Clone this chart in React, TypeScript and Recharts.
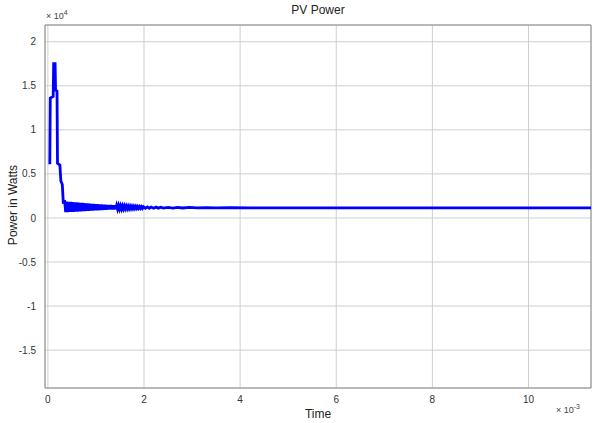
import { CartesianGrid, Line, LineChart, ReferenceLine, XAxis, YAxis } from "recharts";

// time in units of 1e-3 s, power in watts
const times = [
  0.04, 0.05, 0.11, 0.12, 0.15, 0.16, 0.19, 0.2, 0.25, 0.27, 0.3, 0.32,
  0.35, 0.37, 0.39, 0.41, 0.43, 0.45, 0.47, 0.49, 0.51, 0.53, 0.55, 0.57,
  0.59, 0.61, 0.63, 0.65, 0.67, 0.69, 0.71, 0.73, 0.75, 0.77, 0.79, 0.81,
  0.83, 0.85, 0.87, 0.89, 0.91, 0.93, 0.95, 0.97, 0.99, 1.01, 1.03, 1.05,
  1.07, 1.09, 1.11, 1.13, 1.15, 1.17, 1.19, 1.21, 1.23, 1.25, 1.27, 1.29,
  1.31, 1.33, 1.35, 1.37, 1.39, 1.41, 1.43, 1.45, 1.47, 1.49, 1.51, 1.53,
  1.55, 1.57, 1.59, 1.61, 1.63, 1.65, 1.67, 1.69, 1.71, 1.73, 1.75, 1.77,
  1.79, 1.81, 1.83, 1.85, 1.87, 1.89, 1.91, 1.93, 1.95, 1.97, 1.99,
  2.03, 2.07, 2.11, 2.15, 2.2, 2.25, 2.3, 2.35, 2.4, 2.5, 2.6, 2.7,
  2.8, 2.95, 3.1, 3.3, 3.5, 3.8, 4.2, 5.0, 7.0, 9.0, 11.3,
];
const power = [
  6100, 13600, 13800, 17500, 17500, 14500, 14400, 6200, 6000, 4200, 3800, 1800,
  1850, 650, 1850, 650, 1830, 680, 1820, 680, 1800, 700, 1780, 720,
  1760, 730, 1740, 750, 1720, 760, 1700, 780, 1680, 790, 1660, 800,
  1640, 820, 1620, 830, 1600, 850, 1590, 860, 1570, 870, 1560, 880,
  1540, 900, 1530, 910, 1510, 920, 1500, 930, 1480, 950, 1470, 960,
  1450, 970, 1440, 980, 1420, 990, 1410, 1000, 1400, 1010, 1380, 1020,
  1370, 1030, 1360, 1040, 1350, 1050, 1340, 1055, 1330, 1060, 1320, 1070,
  1310, 1075, 1300, 1080, 1290, 1085, 1280, 1090, 1270, 1095, 1260,
  1100, 1250, 1105, 1240, 1110, 1230, 1115, 1220, 1120, 1210, 1125, 1200,
  1130, 1190, 1140, 1180, 1145, 1170, 1150, 1150, 1150, 1150, 1150,
];
const xTicks = [0, 2, 4, 6, 8, 10];
const yTicks = [-15000, -10000, -5000, 0, 5000, 10000, 15000, 20000];

const rows = times.map((t, i) => ({ t, p: power[i] }));

const font = "'Liberation Sans', Arial, sans-serif";

export default function App() {
  return (
    <div style={{ position: "absolute", left: 0, top: 0, width: 593, height: 423, background: "#fff", fontFamily: font }}>
      <LineChart width={593} height={423} data={rows} margin={{ top: 25, right: 2, bottom: 0, left: 0 }}>
        <CartesianGrid stroke="#cfcfcf" strokeWidth={1} />
        <XAxis
          dataKey="t"
          type="number"
          domain={[-0.06, 11.3]}
          ticks={xTicks}
          allowDataOverflow
          height={35}
          tickLine={false}
          axisLine={{ stroke: "#8a8a8a" }}
          tick={{ fill: "#333", fontSize: 10, fontFamily: font }}
          tickMargin={2}
        />
        <YAxis
          type="number"
          domain={[-19300, 21900]}
          ticks={yTicks}
          allowDataOverflow
          width={45}
          tickLine={false}
          axisLine={{ stroke: "#8a8a8a" }}
          tick={{ fill: "#333", fontSize: 10, fontFamily: font }}
          tickFormatter={(v: number) => String(v / 10000)}
          tickMargin={3}
        />
        <ReferenceLine y={21900} stroke="#8a8a8a" />
        <ReferenceLine x={11.3} stroke="#8a8a8a" />
        <Line
          dataKey="p"
          stroke="#0000ff"
          strokeWidth={2.8}
          dot={false}
          isAnimationActive={false}
          type="linear"
        />
      </LineChart>
      <div style={{ position: "absolute", left: 0, width: 636, top: 3, textAlign: "center", fontSize: 12, color: "#222" }}>
        PV Power
      </div>
      <div style={{ position: "absolute", left: 46, top: 9, fontSize: 9, color: "#444" }}>
        × 10<sup style={{ fontSize: 7 }}>4</sup>
      </div>
      <div
        style={{
          position: "absolute",
          left: 13,
          top: 205,
          fontSize: 12,
          color: "#222",
          whiteSpace: "nowrap",
          transform: "translate(-50%, -50%) rotate(-90deg)",
        }}
      >
        Power in Watts
      </div>
      <div style={{ position: "absolute", left: 0, width: 636, top: 407, textAlign: "center", fontSize: 12, color: "#222" }}>
        Time
      </div>
      <div style={{ position: "absolute", left: 556, top: 403, fontSize: 9, color: "#444" }}>
        × 10<sup style={{ fontSize: 7 }}>-3</sup>
      </div>
    </div>
  );
}
